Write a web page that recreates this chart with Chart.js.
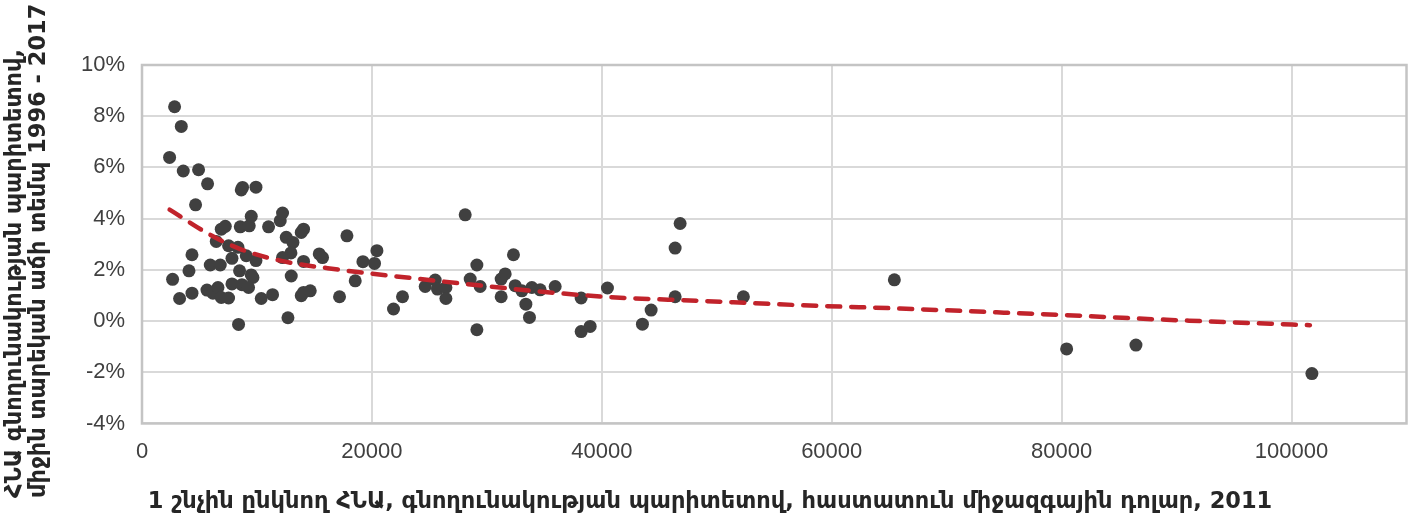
<!DOCTYPE html>
<html>
<head>
<meta charset="utf-8">
<script src="https://cdn.jsdelivr.net/npm/chart.js@4.4.1/dist/chart.umd.min.js"></script>
<style>
  body { margin: 0; background: #fff; }
  #wrap { width: 1413px; height: 521px; }
</style>
</head>
<body>
<div id="wrap"><canvas id="gdpChart"></canvas></div>
<script>
// GDP per capita (PPP, constant 2011 intl $)
const gdpPerCapita = [
  2835, 3418, 2400, 3591, 4922, 5705, 4661, 8635, 8748, 9913,
  4348, 4087, 2661, 3270, 4348, 5652, 6174, 6609, 6896, 7531,
  5939, 6809, 6461, 6896, 7244, 7531, 7826, 8548, 9331, 9505,
  11009, 12026, 12226, 8487, 9505, 9652, 7826, 8696, 9270, 10374,
  11357, 8400, 8348, 9070, 9913, 12548, 13131, 12957, 12226, 12983,
  12696, 14053, 13853, 17827, 14053, 15418, 15705, 19218, 20227, 20436,
  13853, 14053, 14635, 17183, 18549, 21879, 22662, 24636, 25505, 25705,
  26436, 26436, 28114, 28549, 29131, 29418, 29131, 31244, 31592, 31244,
  32314, 32462, 33045, 33393, 33706, 33915, 34636, 35941, 38202, 38202,
  38985, 40489, 43533, 44290, 46377, 46812, 46377, 52316, 65448, 80435,
  86465, 101770
];
// average annual growth 1996-2017, %
const growthRate = [
  8.37, 7.60, 6.39, 5.86, 5.91, 5.36, 4.54, 5.12, 5.22, 5.23,
  2.59, 1.96, 1.63, 0.88, 1.09, 1.21, 1.09, 1.31, 0.92, 0.90,
  2.19, 2.19, 3.11, 3.59, 3.70, 2.94, 2.45, 3.68, 3.72, 4.09,
  3.68, 3.92, 4.22, 1.96, 1.80, 1.70, 1.45, 1.42, 1.31, 0.88,
  1.03, -0.13, 2.88, 2.55, 2.36, 3.27, 3.07, 2.66, 2.48, 1.76,
  0.13, 3.59, 3.46, 3.33, 2.33, 2.62, 2.48, 2.32, 2.25, 2.75,
  0.99, 1.12, 1.18, 0.95, 1.57, 0.47, 0.95, 1.35, 1.60, 1.25,
  1.31, 0.88, 4.15, 1.64, 2.19, 1.35, -0.34, 1.64, 1.84, 0.95,
  2.59, 1.38, 1.18, 0.66, 0.14, 1.31, 1.22, 1.35, 0.90, -0.41,
  -0.21, 1.29, -0.12, 0.43, 2.85, 3.81, 0.95, 0.95, 1.61, -1.09,
  -0.94, -2.05
];

// trendline
const trendX = [2400, 6087, 8548, 12026, 17243, 21591, 39852, 48548, 57243, 65939, 74348, 80435, 89130, 101600];
const trendY = [4.35, 3.33, 2.81, 2.36, 2.00, 1.77, 0.96, 0.79, 0.62, 0.49, 0.34, 0.23, 0.05, -0.16];

const yTicks = [-4, -2, 0, 2, 4, 6, 8, 10];
const xTicks = [0, 20000, 40000, 60000, 80000, 100000];

const yTitle = ['ՀՆԱ գնողունակության պարիտետով,', 'միջին տարեկան աճի տեմպ 1996 - 2017'];
const xTitle = '1 շնչին ընկնող ՀՆԱ, գնողունակության պարիտետով, հաստատուն միջազգային դոլար, 2011';

const tickFont = { family: "'Liberation Sans', Arial, sans-serif", size: 22 };

const plotBorder = {
    id: 'plotBorder',
    beforeDatasetsDraw(chart) {
        const { ctx, chartArea: a } = chart;
        ctx.save();
        ctx.strokeStyle = '#c4c4c4';
        ctx.lineWidth = 2.5;
        ctx.strokeRect(a.left, a.top, a.right - a.left, a.bottom - a.top);
        ctx.restore();
    }
};

// two-line rotated y title, both lines starting from the bottom like the original
const yAxisTitle = {
    id: 'yAxisTitle',
    afterDraw(chart) {
        const ctx = chart.ctx;
        ctx.save();
        ctx.font = "bold 22.5px 'DejaVu Sans'";
        ctx.fillStyle = '#262626';
        ctx.textAlign = 'left';
        ctx.textBaseline = 'alphabetic';
        yTitle.forEach((line, i) => {
            ctx.save();
            ctx.translate(21 + i * 24, 498);
            ctx.rotate(-Math.PI / 2);
            ctx.fillText(line, 0, 0);
            ctx.restore();
        });
        ctx.restore();
    }
};

new Chart(document.getElementById('gdpChart'), {
    type: 'scatter',
    data: {
        datasets: [{
            type: 'line',
            data: trendX.map((x, i) => ({ x, y: trendY[i] })),
            borderColor: '#c1232b',
            borderWidth: 4.5,
            borderDash: [13, 11],
            borderCapStyle: 'round',
            pointRadius: 0,
            tension: 0.4,
            cubicInterpolationMode: 'monotone',
            fill: false,
            order: 0
        }, {
            data: gdpPerCapita.map((x, i) => ({ x, y: growthRate[i] })),
            backgroundColor: '#404040',
            borderWidth: 0,
            pointRadius: 6.5,
            order: 1
        }]
    },
    options: {
        responsive: true,
        maintainAspectRatio: false,
        animation: false,
        layout: { padding: { top: 65, right: 6, bottom: 5, left: 13 } },
        plugins: {
            legend: { display: false },
            tooltip: { enabled: false },
            title: {
                display: true,
                position: 'bottom',
                text: xTitle,
                color: '#262626',
                font: { family: "'DejaVu Sans'", size: 22.5, weight: 'bold', lineHeight: 1.25 },
                padding: { top: 8, bottom: 0 }
            }
        },
        scales: {
            x: {
                type: 'linear',
                min: 0,
                max: 110000,
                afterBuildTicks: s => { s.ticks = xTicks.map(v => ({ value: v })); },
                ticks: { color: '#404040', font: tickFont, padding: 15, maxRotation: 0, callback: v => String(v) },
                grid: { color: '#d9d9d9', lineWidth: 2, drawTicks: false },
                border: { display: false }
            },
            y: {
                min: -4,
                max: 10,
                afterBuildTicks: s => { s.ticks = yTicks.map(v => ({ value: v })); },
                afterFit: s => { s.width = 129; },
                ticks: { color: '#404040', font: tickFont, padding: 17, callback: v => v + '%' },
                grid: { color: '#d9d9d9', lineWidth: 2, drawTicks: false },
                border: { display: false }
            }
        }
    },
    plugins: [plotBorder, yAxisTitle]
});
</script>
</body>
</html>
